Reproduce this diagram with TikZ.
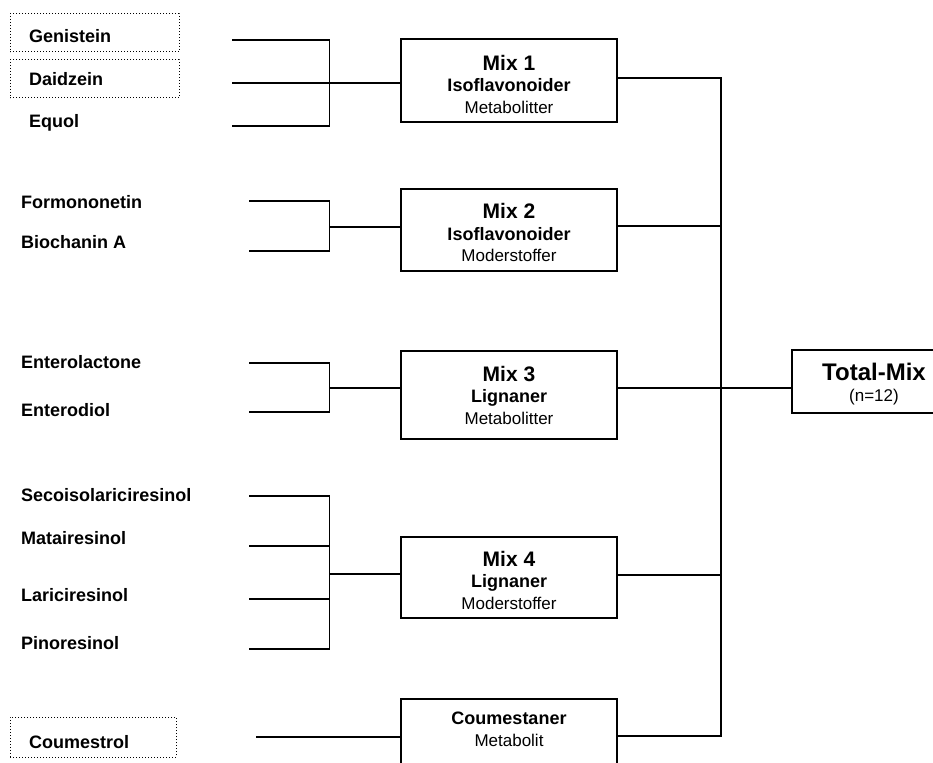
\documentclass[tikz,border=0pt]{standalone}
\usepackage{fontspec}
\setmainfont{Liberation Sans}
\begin{document}
\begin{tikzpicture}[x=1pt,y=-1pt,
  leaf/.style={anchor=base west, inner sep=0pt, font=\fontsize{18}{22}\selectfont\bfseries},
  dotbox/.style={draw, dotted, line width=1pt, inner sep=0pt},
  mixbox/.style={draw, line width=1.6pt, minimum width=216pt, inner sep=0pt},
  mixtext/.style={align=center, inner sep=0pt, font=\fontsize{17}{21.5}\selectfont},
  wire/.style={line width=1.3pt}]
\useasboundingbox (0,0) rectangle (933,762);

% dotted boxes
\node[dotbox, minimum width=169pt, minimum height=38pt] (gbox) at (94.5,33) {};
\node[dotbox, minimum width=169pt, minimum height=38pt] (dbox) at (94.5,79) {};
\node[dotbox, minimum width=166pt, minimum height=40pt] (cbox) at (93,737) {};

% leaf labels
\node[leaf] (gen) at (29,43) {Genistein};
\node[leaf] (dai) at (29,86) {Daidzein};
\node[leaf] (equ) at (29,128) {Equol};
\node[leaf] (for) at (21,208) {Formononetin};
\node[leaf] (bio) at (21,248) {Biochanin A};
\node[leaf] (ela) at (21,368) {Enterolactone};
\node[leaf] (edi) at (21,416) {Enterodiol};
\node[leaf] (sec) at (21,501) {Secoisolariciresinol};
\node[leaf] (mat) at (21,544) {Matairesinol};
\node[leaf] (lar) at (21,601) {Lariciresinol};
\node[leaf] (pin) at (21,649) {Pinoresinol};
\node[leaf] (cou) at (29,748) {Coumestrol};

% mix boxes
\node[mixbox, minimum height=83pt] (m1) at (509,80.5) {};
\node[mixbox, minimum height=82pt] (m2) at (509,230) {};
\node[mixbox, minimum height=88pt] (m3) at (509,395) {};
\node[mixbox, minimum height=81pt] (m4) at (509,577.5) {};
\node[mixbox, minimum height=83pt] (cm) at (509,740.5) {};
\node[draw, line width=1.6pt, minimum width=164pt, minimum height=63pt, inner sep=0pt] (tm) at (874,381.5) {};

\node[mixtext] (m1t) at (509,84) {{\fontsize{21}{21.5}\selectfont\bfseries Mix 1}\\{\fontsize{18}{21.5}\selectfont\bfseries Isoflavonoider}\\Metabolitter};
\node[mixtext] (m2t) at (509,232.5) {{\fontsize{21}{21.5}\selectfont\bfseries Mix 2}\\{\fontsize{18}{21.5}\selectfont\bfseries Isoflavonoider}\\Moderstoffer};
\node[mixtext] (m3t) at (509,395) {{\fontsize{21}{21.5}\selectfont\bfseries Mix 3}\\{\fontsize{18}{21.5}\selectfont\bfseries Lignaner}\\Metabolitter};
\node[mixtext] (m4t) at (509,580) {{\fontsize{21}{21.5}\selectfont\bfseries Mix 4}\\{\fontsize{18}{21.5}\selectfont\bfseries Lignaner}\\Moderstoffer};
\node[mixtext] (cmt) at (509,729.5) {{\fontsize{18}{21.5}\selectfont\bfseries Coumestaner}\\Metabolit};
\node[mixtext] (tmt) at (874,384) {{\fontsize{24}{23}\selectfont\bfseries Total-Mix}\\(n=12)};

% input coordinates
\coordinate (a1) at (232,40);
\coordinate (a2) at (232,83);
\coordinate (a3) at (232,126);
\coordinate (j1) at (329.5,83);
\coordinate (b1) at (249,201);
\coordinate (b2) at (249,251);
\coordinate (j2) at (329.5,227);
\coordinate (c1) at (249,363);
\coordinate (c2) at (249,412);
\coordinate (j3) at (329.5,388);
\coordinate (d1) at (249,496);
\coordinate (d2) at (249,546);
\coordinate (d3) at (249,599);
\coordinate (d4) at (249,649);
\coordinate (j4) at (329.5,574);
\coordinate (e1) at (256,737);

% output bus
\coordinate (t1) at (721,78);
\coordinate (t2) at (721,226);
\coordinate (t3) at (721,388);
\coordinate (t4) at (721,575);
\coordinate (t5) at (721,736);

\draw[wire] (a1) -| (j1) |- (a3);
\draw[wire] (a2) -- (a2 -| m1.west);
\draw[wire] (b1) -| (j2) |- (b2);
\draw[wire] (j2) -- (j2 -| m2.west);
\draw[wire] (c1) -| (j3) |- (c2);
\draw[wire] (j3) -- (j3 -| m3.west);
\draw[wire] (d1) -| (j4) |- (d4);
\draw[wire] (d2) -- (d2 -| j4);
\draw[wire] (d3) -- (d3 -| j4);
\draw[wire] (j4) -- (j4 -| m4.west);
\draw[wire] (e1) -- (e1 -| cm.west);

\draw[wire] (m1.east |- t1) -- (t1) -- (t5) -- (cm.east |- t5);
\draw[wire] (m2.east |- t2) -- (t2);
\draw[wire] (m3.east |- t3) -- (t3);
\draw[wire] (m4.east |- t4) -- (t4);
\draw[wire] (t3) -- (t3 -| tm.west);
\end{tikzpicture}
\end{document}
